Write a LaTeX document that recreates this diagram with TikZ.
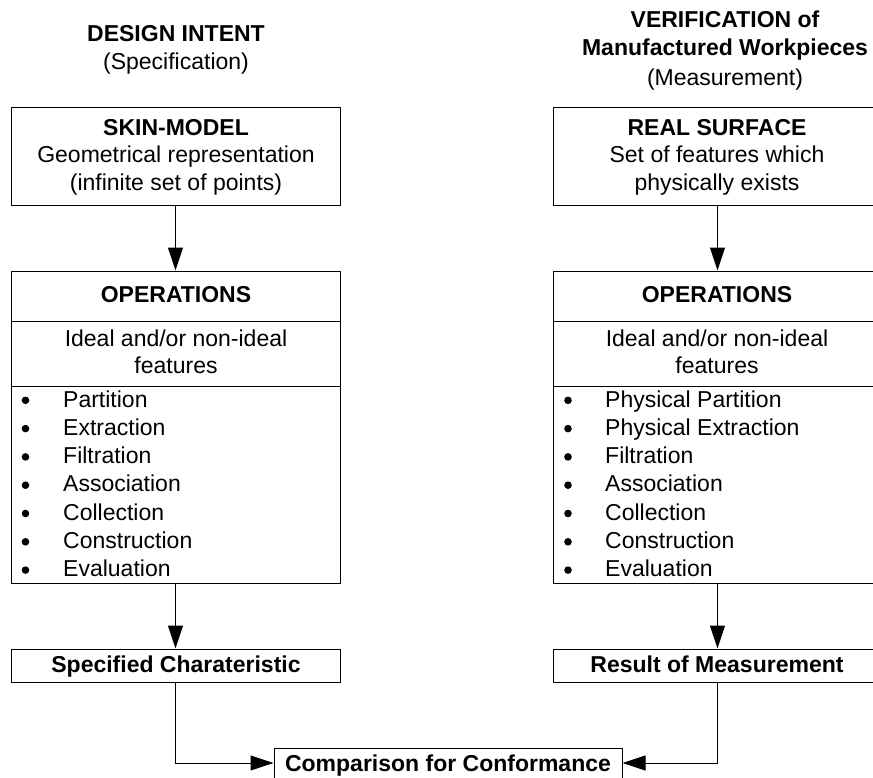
\documentclass[tikz,border=0pt]{standalone}
\usepackage{fontspec}
\setmainfont{Liberation Sans}
\usetikzlibrary{arrows.meta}
\begin{document}
\begin{tikzpicture}[x=1pt,y=-1pt,
  font=\fontsize{23}{28}\selectfont,
  box/.style={draw=black,line width=1pt,minimum width=329pt,inner sep=0pt},
  txt/.style={anchor=base,inner sep=0pt},
  txtl/.style={anchor=base west,inner sep=0pt},
  bul/.style={circle,fill=black,inner sep=0pt,minimum size=7.6pt},
  arr/.style={draw=black,line width=1pt,-{Triangle[length=23pt,width=15pt]}}]
\useasboundingbox (0,0) rectangle (873,777);
\clip (0,0) rectangle (873,777);
% headers
\node[txt,font=\fontsize{23}{28}\selectfont\bfseries] (hl1) at (176,41.7) {DESIGN INTENT};
\node[txt] (hl2) at (176,69) {(Specification)};
\node[txt,font=\fontsize{23}{28}\selectfont\bfseries] (hr1) at (725,27.3) {VERIFICATION of};
\node[txt,font=\fontsize{23}{28}\selectfont\bfseries] (hr2) at (725,55) {Manufactured Workpieces};
\node[txt] (hr3) at (725,85) {(Measurement)};
% boxes
\node[box,minimum height=98pt] (skin) at (175.5,156) {};
\node[box,minimum height=98pt] (real) at (717.5,156) {};
\node[box,minimum height=312pt] (opsL) at (175.5,427) {};
\node[box,minimum height=312pt] (opsR) at (717.5,427) {};
\node[box,minimum height=33pt] (spec) at (175.5,665.5) {};
\node[box,minimum height=33pt] (res) at (717.5,665.5) {};
\node[box,minimum width=348pt,minimum height=30pt] (comp) at (448,763) {};
% dividers
\coordinate (d1) at (0,321);
\coordinate (d2) at (0,386);
\draw[line width=1pt] (opsL.west |- d1) -- (opsL.east |- d1);
\draw[line width=1pt] (opsL.west |- d2) -- (opsL.east |- d2);
\draw[line width=1pt] (opsR.west |- d1) -- (opsR.east |- d1);
\draw[line width=1pt] (opsR.west |- d2) -- (opsR.east |- d2);
% box texts left
\node[txt,font=\fontsize{23}{28}\selectfont\bfseries] (s1) at (176,135) {SKIN-MODEL};
\node[txt] (s2) at (176,162.7) {Geometrical representation};
\node[txt] (s3) at (176,190) {(infinite set of points)};
\node[txt,font=\fontsize{23}{28}\selectfont\bfseries] (oL1) at (176,302.3) {OPERATIONS};
\node[txt] (oL2) at (176,346.7) {Ideal and/or non-ideal};
\node[txt] (oL3) at (176,373.3) {features};
\foreach \t [count=\i from 0] in {Partition,Extraction,Filtration,Association,Collection,Construction,Evaluation}{
  \node[bul] (bL\i) at (25.5,400.3+28.3*\i) {};
  \node[txtl] (tL\i) at (63,407+28.3*\i) {\t};
}
\node[txt,font=\fontsize{23}{28}\selectfont\bfseries] (spt) at (176,672.3) {Specified Charateristic};
% box texts right
\node[txt,font=\fontsize{23}{28}\selectfont\bfseries] (r1) at (717,135) {REAL SURFACE};
\node[txt] (r2) at (717,162.7) {Set of features which};
\node[txt] (r3) at (717,190) {physically exists};
\node[txt,font=\fontsize{23}{28}\selectfont\bfseries] (oR1) at (717,302.3) {OPERATIONS};
\node[txt] (oR2) at (717,346.7) {Ideal and/or non-ideal};
\node[txt] (oR3) at (717,373.3) {features};
\foreach \t [count=\i from 0] in {Physical Partition,Physical Extraction,Filtration,Association,Collection,Construction,Evaluation}{
  \node[bul] (bR\i) at (568,400.3+28.3*\i) {};
  \node[txtl] (tR\i) at (605,407+28.3*\i) {\t};
}
\node[txt,font=\fontsize{23}{28}\selectfont\bfseries] (rst) at (717,672.3) {Result of Measurement};
\node[txt,font=\fontsize{23}{28}\selectfont\bfseries] (cpt) at (448,771.5) {Comparison for Conformance};
% connectors
\draw[arr] (skin.south) -- (opsL.north);
\draw[arr] (real.south) -- (opsR.north);
\draw[arr] (opsL.south) -- (spec.north);
\draw[arr] (opsR.south) -- (res.north);
\draw[arr] (spec.south) |- (comp.west);
\draw[arr] (res.south) |- (comp.east);
\end{tikzpicture}
\end{document}
